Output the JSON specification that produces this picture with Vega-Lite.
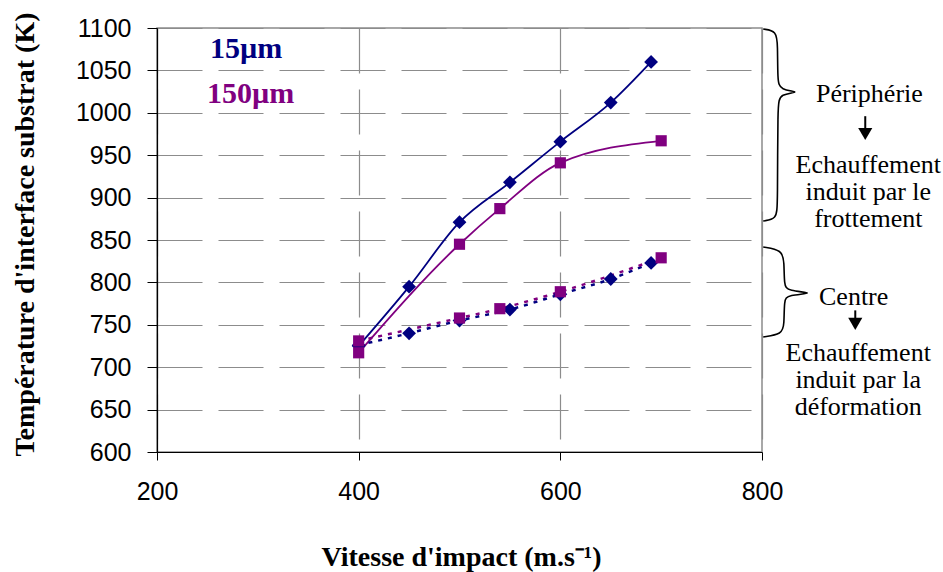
{
  "$schema": "https://vega.github.io/schema/vega-lite/v6.json",
  "width": 605,
  "height": 424,
  "autosize": "none",
  "padding": {"left": 157, "top": 28, "right": 181, "bottom": 120},
  "background": "white",
  "config": {
    "view": {"stroke": "#8c8c8c", "strokeWidth": 1.5},
    "axis": {
      "domainColor": "black",
      "domainWidth": 1.2,
      "tickColor": "black",
      "labelFont": "Liberation Sans",
      "labelFontSize": 25,
      "labelColor": "black",
      "titleFont": "Liberation Serif",
      "titleFontSize": 28,
      "titleFontWeight": "bold",
      "titleColor": "black",
      "grid": true,
      "gridColor": "#8c8c8c",
      "gridDash": [45, 16],
      "gridWidth": 1.2,
      "labelFlush": false
    }
  },
  "datasets": {
    "series": [
      {"x": 400, "y": 725, "taille": "15µm", "zone": "périphérie"},
      {"x": 450, "y": 795, "taille": "15µm", "zone": "périphérie"},
      {"x": 500, "y": 871, "taille": "15µm", "zone": "périphérie"},
      {"x": 550, "y": 918, "taille": "15µm", "zone": "périphérie"},
      {"x": 600, "y": 966, "taille": "15µm", "zone": "périphérie"},
      {"x": 650, "y": 1012, "taille": "15µm", "zone": "périphérie"},
      {"x": 690, "y": 1060, "taille": "15µm", "zone": "périphérie"},
      {"x": 400, "y": 717, "taille": "150µm", "zone": "périphérie"},
      {"x": 500, "y": 845, "taille": "150µm", "zone": "périphérie"},
      {"x": 540, "y": 887, "taille": "150µm", "zone": "périphérie"},
      {"x": 600, "y": 941, "taille": "150µm", "zone": "périphérie"},
      {"x": 700, "y": 967, "taille": "150µm", "zone": "périphérie"},
      {"x": 400, "y": 726, "taille": "15µm", "zone": "centre"},
      {"x": 450, "y": 740, "taille": "15µm", "zone": "centre"},
      {"x": 500, "y": 755, "taille": "15µm", "zone": "centre"},
      {"x": 550, "y": 768, "taille": "15µm", "zone": "centre"},
      {"x": 600, "y": 786, "taille": "15µm", "zone": "centre"},
      {"x": 650, "y": 804, "taille": "15µm", "zone": "centre"},
      {"x": 690, "y": 823, "taille": "15µm", "zone": "centre"},
      {"x": 400, "y": 731, "taille": "150µm", "zone": "centre"},
      {"x": 500, "y": 758, "taille": "150µm", "zone": "centre"},
      {"x": 540, "y": 769, "taille": "150µm", "zone": "centre"},
      {"x": 600, "y": 789, "taille": "150µm", "zone": "centre"},
      {"x": 700, "y": 829, "taille": "150µm", "zone": "centre"}
    ],
    "legendtext": [
      {"x": 252.6, "y": 1064.6, "label": "15µm", "taille": "15µm"},
      {"x": 249.6, "y": 1011.6, "label": "150µm", "taille": "150µm"}
    ],
    "braces": [
      {"b": 1, "o": 1, "x": 801.2, "y": 1098.8},
      {"b": 1, "o": 2, "x": 814.5, "y": 1096.5},
      {"b": 1, "o": 3, "x": 815.5, "y": 1080},
      {"b": 1, "o": 4, "x": 815.5, "y": 1038.7},
      {"b": 1, "o": 5, "x": 817.5, "y": 1026.9},
      {"b": 1, "o": 6, "x": 840, "y": 1024.5},
      {"b": 1, "o": 7, "x": 817.5, "y": 1022.2},
      {"b": 1, "o": 8, "x": 815.5, "y": 1010.4},
      {"b": 1, "o": 9, "x": 815.5, "y": 891.3},
      {"b": 1, "o": 10, "x": 814.5, "y": 874.8},
      {"b": 1, "o": 11, "x": 801.2, "y": 872.4},
      {"b": 2, "o": 1, "x": 801.2, "y": 841.7},
      {"b": 2, "o": 2, "x": 820, "y": 838.2},
      {"b": 2, "o": 3, "x": 822, "y": 824.1},
      {"b": 2, "o": 4, "x": 822, "y": 796.9},
      {"b": 2, "o": 5, "x": 825, "y": 789.9},
      {"b": 2, "o": 6, "x": 855, "y": 787.5},
      {"b": 2, "o": 7, "x": 825, "y": 785.1},
      {"b": 2, "o": 8, "x": 822, "y": 779.2},
      {"b": 2, "o": 9, "x": 822, "y": 749.8},
      {"b": 2, "o": 10, "x": 820, "y": 739.2},
      {"b": 2, "o": 11, "x": 801.2, "y": 735.6}
    ],
    "annotations": [
      {"x": 906.5, "y": 1012.7, "label": "Périphérie"},
      {"x": 905.4, "y": 929, "label": "Echauffement\ninduit par le\nfrottement"},
      {"x": 890.9, "y": 773.3, "label": "Centre"},
      {"x": 895.4, "y": 707, "label": "Echauffement\ninduit par la\ndéformation"}
    ],
    "arrows": [
      {"x": 902.4, "y": 996, "y2": 979.7, "yh": 975},
      {"x": 892.5, "y": 767, "y2": 755.7, "yh": 751}
    ]
  },
  "encoding": {
    "x": {
      "field": "x",
      "type": "quantitative",
      "scale": {"domain": [200, 800], "nice": false, "zero": false},
      "axis": {
        "title": "Vitesse d'impact (m.s⁻¹)",
        "values": [200, 400, 600, 800],
        "format": "d",
        "tickSize": 8,
        "labelPadding": 19,
        "titleX": 304,
        "titleY": 113,
        "titleBaseline": "alphabetic"
      }
    },
    "y": {
      "field": "y",
      "type": "quantitative",
      "scale": {"domain": [600, 1100], "nice": false, "zero": false},
      "axis": {
        "title": "Température  d'interface substrat (K)",
        "values": [600, 650, 700, 750, 800, 850, 900, 950, 1000, 1050, 1100],
        "format": "d",
        "tickSize": 10,
        "labelPadding": 16,
        "titleX": -124,
        "titleY": 206,
        "titleBaseline": "alphabetic"
      }
    }
  },
  "layer": [
    {
      "data": {"name": "series"},
      "transform": [{"filter": "datum.zone === 'périphérie'"}],
      "mark": {"type": "line", "interpolate": "monotone", "strokeWidth": 1.8},
      "encoding": {
        "color": {"field": "taille", "type": "nominal", "scale": {"domain": ["15µm", "150µm"], "range": ["#000080", "#800080"]}, "legend": null}
      }
    },
    {
      "data": {"name": "series"},
      "transform": [{"filter": "datum.zone === 'centre'"}],
      "mark": {"type": "line", "interpolate": "monotone", "strokeWidth": 2.5, "strokeDash": [4, 6]},
      "encoding": {
        "color": {"field": "taille", "type": "nominal", "legend": null}
      }
    },
    {
      "data": {"name": "series"},
      "transform": [{"filter": "datum.taille === '15µm'"}],
      "mark": {"type": "point", "shape": "diamond", "filled": true, "opacity": 1, "size": 190},
      "encoding": {
        "color": {"field": "taille", "type": "nominal", "legend": null}
      }
    },
    {
      "data": {"name": "series"},
      "transform": [{"filter": "datum.taille === '150µm'"}],
      "mark": {"type": "point", "shape": "square", "filled": true, "opacity": 1, "size": 125},
      "encoding": {
        "color": {"field": "taille", "type": "nominal", "legend": null}
      }
    },
    {
      "data": {"name": "legendtext"},
      "mark": {"type": "text", "align": "left", "baseline": "alphabetic", "font": "Liberation Serif", "fontSize": 30, "fontWeight": "bold"},
      "encoding": {
        "text": {"field": "label"},
        "color": {"field": "taille", "type": "nominal", "legend": null}
      }
    },
    {
      "data": {"name": "braces"},
      "mark": {"type": "line", "interpolate": "basis", "color": "black", "strokeWidth": 1.6, "clip": false},
      "encoding": {
        "detail": {"field": "b"},
        "order": {"field": "o", "type": "quantitative"}
      }
    },
    {
      "data": {"name": "annotations"},
      "mark": {"type": "text", "align": "center", "baseline": "alphabetic", "font": "Liberation Serif", "fontSize": 26, "lineHeight": 27, "lineBreak": "\n", "color": "black", "clip": false},
      "encoding": {
        "text": {"field": "label"}
      }
    },
    {
      "data": {"name": "arrows"},
      "mark": {"type": "rule", "color": "black", "strokeWidth": 2, "clip": false},
      "encoding": {
        "y2": {"field": "y2"}
      }
    },
    {
      "data": {"name": "arrows"},
      "mark": {"type": "point", "shape": "triangle-down", "filled": true, "color": "black", "opacity": 1, "size": 200, "clip": false},
      "encoding": {
        "y": {"field": "yh", "type": "quantitative"}
      }
    }
  ]
}
